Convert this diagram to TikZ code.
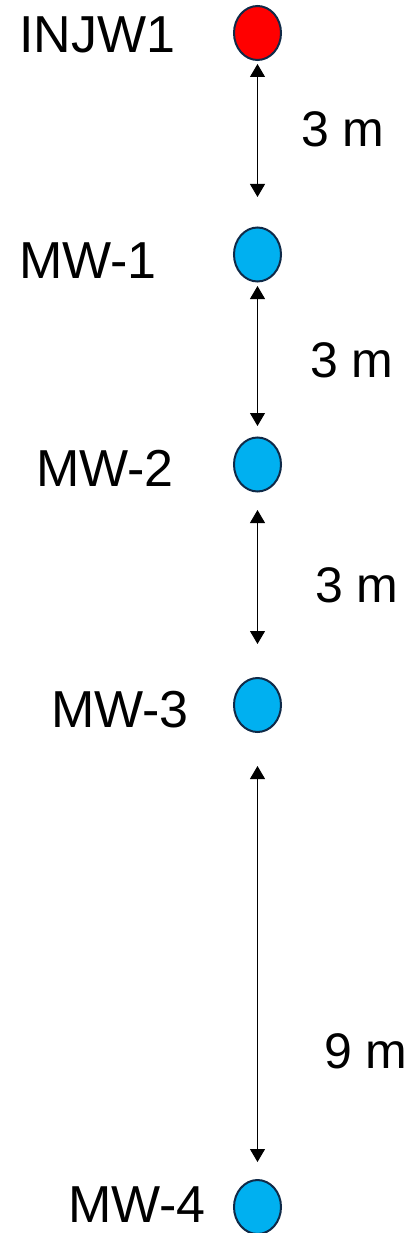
\documentclass[tikz,border=0pt]{standalone}
\usepackage{fontspec}
\setmainfont{Liberation Sans}
\usetikzlibrary{shapes.geometric,arrows.meta}
\definecolor{wellred}{RGB}{255,0,0}
\definecolor{wellblue}{RGB}{0,176,240}
\definecolor{welledge}{RGB}{16,42,72}

\begin{document}
\begin{tikzpicture}[x=1pt,y=-1pt,
  well/.style={ellipse,draw=welledge,line width=2pt,minimum width=47pt,minimum height=54pt,inner sep=0pt},
  lbl/.style={anchor=base west,inner sep=0pt,font=\fontsize{52}{52}\selectfont},
  dist/.style={anchor=base west,inner sep=0pt,font=\fontsize{50}{50}\selectfont},
  span/.style={{Triangle[width=15pt,length=13pt]}-{Triangle[width=15pt,length=13pt]},line width=1pt}]
  \useasboundingbox (0,0) rectangle (418,1233);

  % wells
  \node[well,fill=wellred]  (inj) at (257.5,33)   {};
  \node[well,fill=wellblue] (mw1) at (257.5,254.5) {};
  \node[well,fill=wellblue] (mw2) at (257.5,464.5) {};
  \node[well,fill=wellblue] (mw3) at (257.5,705)   {};
  \node[well,fill=wellblue] (mw4) at (257.5,1207)  {};

  % well names
  \node[lbl] (tinj) at (19,53)   {INJW1};
  \node[lbl] (tmw1) at (19,278)  {MW-1};
  \node[lbl] (tmw2) at (36,486)  {MW-2};
  \node[lbl] (tmw3) at (51,727)  {MW-3};
  \node[lbl] (tmw4) at (68,1222) {MW-4};

  % spacing between wells
  \draw[span,shorten <=3pt,shorten >=29.5pt] (inj.south) -- (mw1.north);
  \draw[span,shorten <=3.5pt,shorten >=10.5pt] (mw1.south) -- (mw2.north);
  \draw[span,shorten <=17.5pt,shorten >=33pt] (mw2.south) -- (mw3.north);
  \draw[span,shorten <=33pt,shorten >=17pt] (mw3.south) -- (mw4.north);

  \node[dist] (d1) at (301,147)  {3 m};
  \node[dist] (d2) at (310,377)  {3 m};
  \node[dist] (d3) at (315,602)  {3 m};
  \node[dist] (d4) at (324,1068) {9 m};
\end{tikzpicture}
\end{document}
